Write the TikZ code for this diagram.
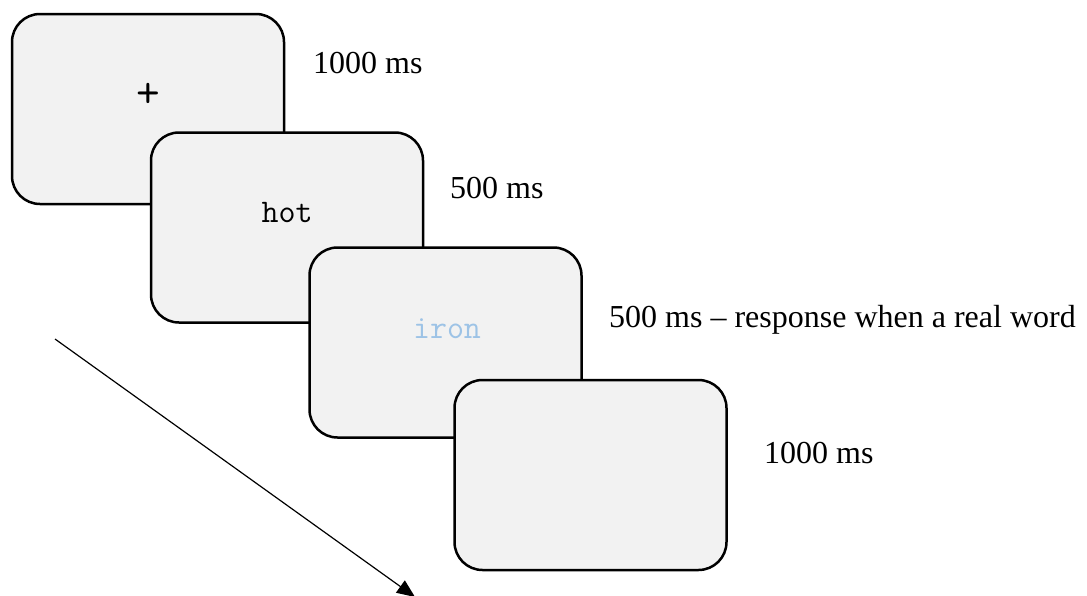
\documentclass[tikz,border=0pt]{standalone}
\usepackage{fontspec}
\setmainfont{Liberation Serif}
\usetikzlibrary{arrows.meta}
\definecolor{screenfill}{HTML}{F2F2F2}
\definecolor{wordblue}{HTML}{9DC3E6}
\begin{document}
\begin{tikzpicture}[x=1pt,y=-1pt,
  screen/.style={draw=black, line width=2.5pt, fill=screenfill, rounded corners=28pt,
    minimum width=272pt, minimum height=190pt, inner sep=0pt},
  stim/.style={font=\ttfamily\fontsize{33}{40}\selectfont, inner sep=0pt},
  timing/.style={font=\fontsize{32}{38}\selectfont, inner sep=0pt, anchor=base west},
  timearrow/.style={line width=1.2pt, -{Triangle[length=18pt, width=15pt]}}]
\useasboundingbox (0,0) rectangle (1087,595);
\node[screen] (s1) at (148,109) {};
\node[screen] (s2) at (287,227.5) {};
\node[screen] (s3) at (445.5,342.5) {};
\node[screen] (s4) at (590.5,475) {};
\node[stim, font=\ttfamily\fontsize{46}{54}\selectfont] (t1) at (148,95) {+};
\node[stim, anchor=base] (t2) at (287,222) {hot};
\node[stim, anchor=base, text=wordblue] (t3) at (447,338) {iron};
\node[timing] (d1) at (313,73) {1000 ms};
\node[timing] (d2) at (450,198) {500 ms};
\node[timing] (d3) at (609,327) {500 ms -- response when a real word};
\node[timing] (d4) at (764,463) {1000 ms};
\coordinate (a0) at (55,339);
\coordinate (a1) at (415,597);
\draw[timearrow] (a0) -- (a1);
\end{tikzpicture}
\end{document}
